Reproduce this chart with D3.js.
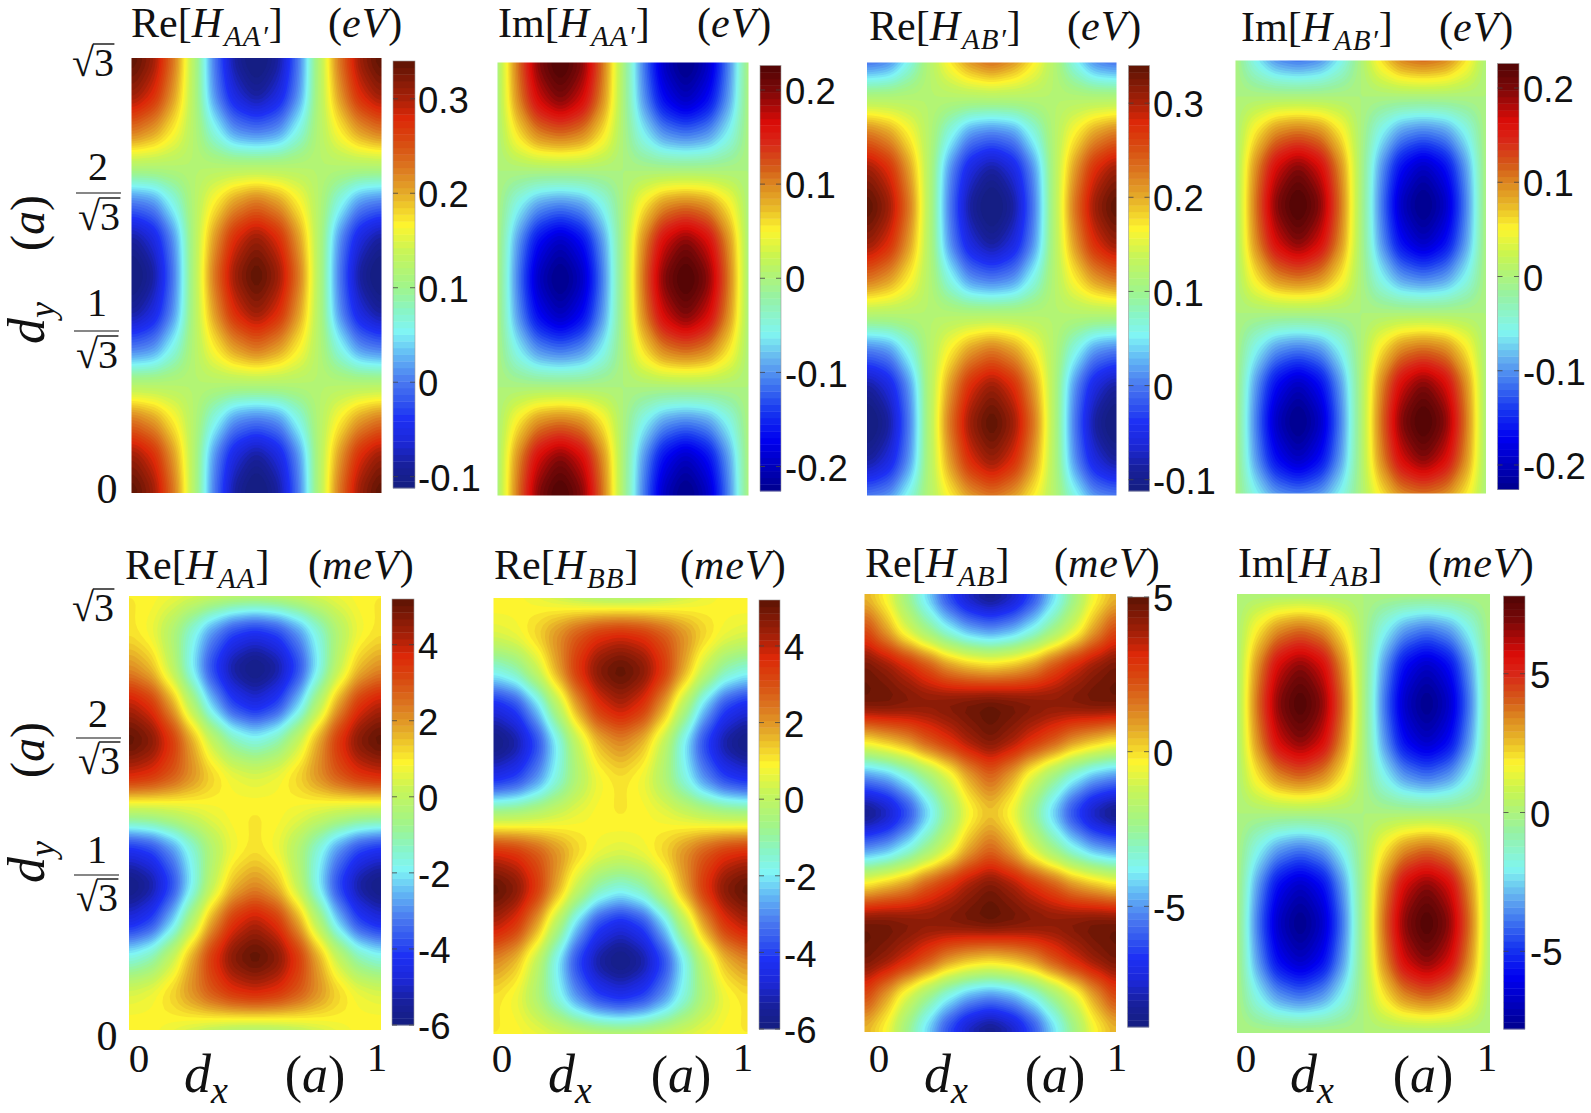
<!DOCTYPE html>
<html>
<head>
<meta charset="utf-8">
<title>Interlayer Hamiltonian maps</title>
<script src="https://cdn.jsdelivr.net/npm/d3@7"></script>
<style>
  html, body { margin: 0; background: #fff; }
  svg { display: block; }
  .math { font-family: "Liberation Serif", serif; fill: #111; }
  .axis text { font-family: "Liberation Sans", sans-serif; font-size: 36.5px; fill: #111; }
</style>
</head>
<body>
<svg id="chart" width="1591" height="1113"></svg>
<script>
// Values, 13 columns (dx = 0..1) by 13 rows (dy = sqrt3..0)
const reHAAp = [
  [.34,.31,.23,.12,0,-.09,-.12,-.09,0,.12,.23,.31,.34],
  [.31,.28,.21,.12,.01,-.06,-.09,-.06,.01,.12,.21,.28,.31],
  [.23,.21,.17,.12,.06,.01,0,.01,.06,.12,.17,.21,.23],
  [.12,.12,.12,.12,.12,.12,.12,.12,.12,.12,.12,.12,.12],
  [0,.01,.06,.12,.17,.21,.23,.21,.17,.12,.06,.01,0],
  [-.09,-.06,.01,.12,.21,.28,.31,.28,.21,.12,.01,-.06,-.09],
  [-.12,-.09,0,.12,.23,.31,.34,.31,.23,.12,0,-.09,-.12],
  [-.09,-.06,.01,.12,.21,.28,.31,.28,.21,.12,.01,-.06,-.09],
  [0,.01,.06,.12,.17,.21,.23,.21,.17,.12,.06,.01,0],
  [.12,.12,.12,.12,.12,.12,.12,.12,.12,.12,.12,.12,.12],
  [.23,.21,.17,.12,.06,.01,0,.01,.06,.12,.17,.21,.23],
  [.31,.28,.21,.12,.01,-.06,-.09,-.06,.01,.12,.21,.28,.31],
  [.34,.31,.23,.12,0,-.09,-.12,-.09,0,.12,.23,.31,.34]
];
const imHAAp = [
  [0,.11,.2,.23,.2,.11,0,-.11,-.2,-.23,-.2,-.11,0],
  [0,.1,.17,.2,.17,.1,0,-.1,-.17,-.2,-.17,-.1,0],
  [0,.06,.1,.11,.1,.06,0,-.06,-.1,-.11,-.1,-.06,0],
  [0,0,0,0,0,0,0,0,0,0,0,0,0],
  [0,-.06,-.1,-.11,-.1,-.06,0,.06,.1,.11,.1,.06,0],
  [0,-.1,-.17,-.2,-.17,-.1,0,.1,.17,.2,.17,.1,0],
  [0,-.11,-.2,-.23,-.2,-.11,0,.11,.2,.23,.2,.11,0],
  [0,-.1,-.17,-.2,-.17,-.1,0,.1,.17,.2,.17,.1,0],
  [0,-.06,-.1,-.11,-.1,-.06,0,.06,.1,.11,.1,.06,0],
  [0,0,0,0,0,0,0,0,0,0,0,0,0],
  [0,.06,.1,.11,.1,.06,0,-.06,-.1,-.11,-.1,-.06,0],
  [0,.1,.17,.2,.17,.1,0,-.1,-.17,-.2,-.17,-.1,0],
  [0,.11,.2,.23,.2,.11,0,-.11,-.2,-.23,-.2,-.11,0]
];
const reHABp = [
  [0,.01,.06,.12,.17,.21,.23,.21,.17,.12,.06,.01,0],
  [.12,.12,.12,.12,.12,.12,.12,.12,.12,.12,.12,.12,.12],
  [.23,.21,.17,.12,.06,.01,0,.01,.06,.12,.17,.21,.23],
  [.31,.28,.21,.12,.01,-.06,-.09,-.06,.01,.12,.21,.28,.31],
  [.34,.31,.23,.12,0,-.09,-.12,-.09,0,.12,.23,.31,.34],
  [.31,.28,.21,.12,.01,-.06,-.09,-.06,.01,.12,.21,.28,.31],
  [.23,.21,.17,.12,.06,.01,0,.01,.06,.12,.17,.21,.23],
  [.12,.12,.12,.12,.12,.12,.12,.12,.12,.12,.12,.12,.12],
  [0,.01,.06,.12,.17,.21,.23,.21,.17,.12,.06,.01,0],
  [-.09,-.06,.01,.12,.21,.28,.31,.28,.21,.12,.01,-.06,-.09],
  [-.12,-.09,0,.12,.23,.31,.34,.31,.23,.12,0,-.09,-.12],
  [-.09,-.06,.01,.12,.21,.28,.31,.28,.21,.12,.01,-.06,-.09],
  [0,.01,.06,.12,.17,.21,.23,.21,.17,.12,.06,.01,0]
];
const imHABp = [
  [0,-.06,-.1,-.11,-.1,-.06,0,.06,.1,.11,.1,.06,0],
  [0,0,0,0,0,0,0,0,0,0,0,0,0],
  [0,.06,.1,.11,.1,.06,0,-.06,-.1,-.11,-.1,-.06,0],
  [0,.1,.17,.2,.17,.1,0,-.1,-.17,-.2,-.17,-.1,0],
  [0,.11,.2,.23,.2,.11,0,-.11,-.2,-.23,-.2,-.11,0],
  [0,.1,.17,.2,.17,.1,0,-.1,-.17,-.2,-.17,-.1,0],
  [0,.06,.1,.11,.1,.06,0,-.06,-.1,-.11,-.1,-.06,0],
  [0,0,0,0,0,0,0,0,0,0,0,0,0],
  [0,-.06,-.1,-.11,-.1,-.06,0,.06,.1,.11,.1,.06,0],
  [0,-.1,-.17,-.2,-.17,-.1,0,.1,.17,.2,.17,.1,0],
  [0,-.11,-.2,-.23,-.2,-.11,0,.11,.2,.23,.2,.11,0],
  [0,-.1,-.17,-.2,-.17,-.1,0,.1,.17,.2,.17,.1,0],
  [0,-.06,-.1,-.11,-.1,-.06,0,.06,.1,.11,.1,.06,0]
];
const reHAA = [
  [1,.92,.69,.38,.07,-.16,-.24,-.16,.07,.38,.69,.92,1],
  [1.05,.69,-.3,-1.64,-2.99,-3.98,-4.34,-3.98,-2.99,-1.64,-.3,.69,1.05],
  [2.09,1.55,.07,-1.96,-3.98,-5.46,-6,-5.46,-3.98,-1.96,.07,1.55,2.09],
  [4.07,3.49,1.91,-.24,-2.4,-3.98,-4.55,-3.98,-2.4,-.24,1.91,3.49,4.07],
  [5.2,4.74,3.49,1.78,.07,-1.18,-1.64,-1.18,.07,1.78,3.49,4.74,5.2],
  [3.71,3.49,2.9,2.09,1.28,.69,.47,.69,1.28,2.09,2.9,3.49,3.71],
  [-.24,-.16,.07,.38,.69,.92,1,.92,.69,.38,.07,-.16,-.24],
  [-4.34,-3.98,-2.99,-1.64,-.3,.69,1.05,.69,-.3,-1.64,-2.99,-3.98,-4.34],
  [-6,-5.46,-3.98,-1.96,.07,1.55,2.09,1.55,.07,-1.96,-3.98,-5.46,-6],
  [-4.55,-3.98,-2.4,-.24,1.91,3.49,4.07,3.49,1.91,-.24,-2.4,-3.98,-4.55],
  [-1.64,-1.18,.07,1.78,3.49,4.74,5.2,4.74,3.49,1.78,.07,-1.18,-1.64],
  [.47,.69,1.28,2.09,2.9,3.49,3.71,3.49,2.9,2.09,1.28,.69,.47],
  [1,.92,.69,.38,.07,-.16,-.24,-.16,.07,.38,.69,.92,1]
];
const reHBB = [
  [1,.92,.69,.38,.07,-.16,-.24,-.16,.07,.38,.69,.92,1],
  [.47,.69,1.28,2.09,2.9,3.49,3.71,3.49,2.9,2.09,1.28,.69,.47],
  [-1.64,-1.18,.07,1.78,3.49,4.74,5.2,4.74,3.49,1.78,.07,-1.18,-1.64],
  [-4.55,-3.98,-2.4,-.24,1.91,3.49,4.07,3.49,1.91,-.24,-2.4,-3.98,-4.55],
  [-6,-5.46,-3.98,-1.96,.07,1.55,2.09,1.55,.07,-1.96,-3.98,-5.46,-6],
  [-4.34,-3.98,-2.99,-1.64,-.3,.69,1.05,.69,-.3,-1.64,-2.99,-3.98,-4.34],
  [-.24,-.16,.07,.38,.69,.92,1,.92,.69,.38,.07,-.16,-.24],
  [3.71,3.49,2.9,2.09,1.28,.69,.47,.69,1.28,2.09,2.9,3.49,3.71],
  [5.2,4.74,3.49,1.78,.07,-1.18,-1.64,-1.18,.07,1.78,3.49,4.74,5.2],
  [4.07,3.49,1.91,-.24,-2.4,-3.98,-4.55,-3.98,-2.4,-.24,1.91,3.49,4.07],
  [2.09,1.55,.07,-1.96,-3.98,-5.46,-6,-5.46,-3.98,-1.96,.07,1.55,2.09],
  [1.05,.69,-.3,-1.64,-2.99,-3.98,-4.34,-3.98,-2.99,-1.64,-.3,.69,1.05],
  [1,.92,.69,.38,.07,-.16,-.24,-.16,.07,.38,.69,.92,1]
];
const reHAB = [
  [.3,-.6,-2.5,-4.4,-6.5,-8.1,-8.9,-8.1,-6.5,-4.4,-2.5,-.6,.3],
  [2.5,.8,-1,-2.4,-3.7,-4.7,-5.1,-4.7,-3.7,-2.4,-1,.8,2.5],
  [4.6,4.1,3.3,2.3,1.1,.5,.2,.5,1.1,2.3,3.3,4.1,4.6],
  [4.7,4.7,4.5,4.3,4.5,4.7,4.9,4.7,4.5,4.3,4.5,4.7,4.7],
  [-.1,.5,1.1,2.2,3,3.9,4.5,3.9,3,2.2,1.1,.5,-.1],
  [-5.1,-4.7,-3.7,-2.4,-1,.7,1.8,.7,-1,-2.4,-3.7,-4.7,-5.1],
  [-8.9,-8.1,-6.5,-4.4,-2.5,-.6,.2,-.6,-2.5,-4.4,-6.5,-8.1,-8.9],
  [-5.1,-4.7,-3.7,-2.4,-1,.7,1.8,.7,-1,-2.4,-3.7,-4.7,-5.1],
  [-.1,.5,1.1,2.2,3,3.9,4.5,3.9,3,2.2,1.1,.5,-.1],
  [4.7,4.7,4.5,4.3,4.5,4.7,4.9,4.7,4.5,4.3,4.5,4.7,4.7],
  [4.6,4.1,3.3,2.3,1.1,.5,.2,.5,1.1,2.3,3.3,4.1,4.6],
  [2.5,.8,-1,-2.4,-3.7,-4.7,-5.1,-4.7,-3.7,-2.4,-1,.8,2.5],
  [.3,-.6,-2.5,-4.4,-6.5,-8.1,-8.9,-8.1,-6.5,-4.4,-2.5,-.6,.3]
];
const imHAB = [
  [0,0,0,0,0,0,0,0,0,0,0,0,0],
  [0,2,3.4,3.9,3.4,2,0,-2,-3.4,-3.9,-3.4,-2,0],
  [0,3.4,5.9,6.8,5.9,3.4,0,-3.4,-5.9,-6.8,-5.9,-3.4,0],
  [0,3.9,6.8,7.8,6.8,3.9,0,-3.9,-6.8,-7.8,-6.8,-3.9,0],
  [0,3.4,5.9,6.8,5.9,3.4,0,-3.4,-5.9,-6.8,-5.9,-3.4,0],
  [0,2,3.4,3.9,3.4,2,0,-2,-3.4,-3.9,-3.4,-2,0],
  [0,0,0,0,0,0,0,0,0,0,0,0,0],
  [0,-2,-3.4,-3.9,-3.4,-2,0,2,3.4,3.9,3.4,2,0],
  [0,-3.4,-5.9,-6.8,-5.9,-3.4,0,3.4,5.9,6.8,5.9,3.4,0],
  [0,-3.9,-6.8,-7.8,-6.8,-3.9,0,3.9,6.8,7.8,6.8,3.9,0],
  [0,-3.4,-5.9,-6.8,-5.9,-3.4,0,3.4,5.9,6.8,5.9,3.4,0],
  [0,-2,-3.4,-3.9,-3.4,-2,0,2,3.4,3.9,3.4,2,0],
  [0,0,0,0,0,0,0,0,0,0,0,0,0]
];

// Colorbar ranges and tick labels
const rangeReAAp = [-0.112, 0.34];
const rangeImAAp = [-0.226, 0.226];
const rangeAAmeV = [-6, 5.2];
const rangeReAB = [-8.9, 5];
const rangeImAB = [-7.8, 7.8];
const ticksReAAp = [-0.1, 0, 0.1, 0.2, 0.3];
const ticksImAAp = [-0.2, -0.1, 0, 0.1, 0.2];
const ticksAAmeV = [-6, -4, -2, 0, 2, 4];
const ticksReAB = [-5, 0, 5];
const ticksImAB = [-5, 0, 5];

// Two variants of the jet map, the numbers are positions along the bar
const stopsWarm = [0, .054, .108, .163, .187, .249, .311, .366, .413, .471, .553, .616, .694, .749, .811, .867, .913, 1];
const colorsWarm = ['#141e80', '#18209c', '#1c28d8', '#1e30f5', '#2848f0', '#4a78f0', '#62b8f5', '#80f5f5', '#88f5c8', '#a0f58a', '#c8f558', '#fdf52e', '#e4a828', '#dc7820', '#d84a10', '#dc2808', '#a82008', '#5c1404'];
const stopsDeep = [0, .12, .19, .3, .37, .46, .551, .613, .668, .719, .762, .818, .864, .943, 1];
const colorsDeep = ['#00008c', '#0000f0', '#1838f0', '#60a8f0', '#80f5f0', '#98f2a0', '#c8f550', '#fdf52e', '#e8b828', '#dc8820', '#d45a18', '#d82818', '#dc0c08', '#7a0808', '#500404'];

const SQRT3 = Math.sqrt(3);
const LEVELS = 64;
const PAD = 3;     // nodes wrapped round each edge, the maps are periodic
const CELL = 6;    // raster cells per node for the contour smoothing
const GAIN = 1.03; // gives back the peak height that the smoothing takes off

class HeatPanel {
  constructor(_config, _data) {
    this.config = _config;
    this.data = _data;
    this.initVis();
    this.renderVis();
  }

  initVis() {
    let vis = this;
    const c = vis.config;

    vis.nCols = vis.data[0].length;
    vis.nRows = vis.data.length;

    vis.xScale = d3.scaleLinear().domain([0, 1]).range([c.box[0], c.box[1]]);
    vis.yScale = d3.scaleLinear().domain([0, SQRT3]).range([c.box[3], c.box[2]]);
    vis.barScale = d3.scaleLinear().domain(c.range).range([c.bar[3], c.bar[2]]);

    const ramp = d3.scaleLinear().domain(c.stops).range(c.colors).interpolate(d3.interpolateRgb);
    vis.levelColor = i => ramp((i + 0.5) / LEVELS);
    vis.thresholds = d3.range(LEVELS).map(i => c.range[0] + i * (c.range[1] - c.range[0]) / LEVELS);

    vis.g = d3.select('#chart').append('g').attr('class', 'panel');
  }

  // Raster of the read values, wrapped at the edges and softened with d3.blur2
  // so the contours do not show the facets of the coarse grid
  buildRaster() {
    let vis = this;
    const w = (vis.nCols + 2 * PAD) * CELL;
    const h = (vis.nRows + 2 * PAD) * CELL;
    const wrap = (i, n) => (((i - PAD) % (n - 1)) + (n - 1)) % (n - 1);
    const values = new Float64Array(w * h);
    for (let y = 0; y < h; y++) {
      const row = vis.data[wrap(Math.floor(y / CELL), vis.nRows)];
      for (let x = 0; x < w; x++) {
        values[y * w + x] = row[wrap(Math.floor(x / CELL), vis.nCols)];
      }
    }
    d3.blur2({ data: values, width: w, height: h }, 1.5);
    const mid = d3.mean(vis.config.range);
    values.forEach((v, i) => { values[i] = mid + (v - mid) * GAIN; });
    return { values, w, h };
  }

  renderVis() {
    let vis = this;
    const c = vis.config;
    const clipId = `clip-${c.id}`;

    vis.g.append('clipPath').attr('id', clipId)
      .append('rect')
      .attr('x', c.box[0]).attr('y', c.box[2])
      .attr('width', c.box[1] - c.box[0]).attr('height', c.box[3] - c.box[2]);

    const map = vis.g.append('g').attr('clip-path', `url(#${clipId})`)
      .append('g').attr('filter', 'url(#soft)');

    // Base colour below the first contour
    map.append('rect')
      .attr('x', c.box[0] - 30).attr('y', c.box[2] - 30)
      .attr('width', c.box[1] - c.box[0] + 60).attr('height', c.box[3] - c.box[2] + 60)
      .attr('fill', vis.levelColor(0));

    const project = d3.geoTransform({
      point(x, y) {
        const col = x / CELL - 0.5 - PAD;
        const row = y / CELL - 0.5 - PAD;
        this.stream.point(
          vis.xScale(col / (vis.nCols - 1)),
          vis.yScale(SQRT3 * (1 - row / (vis.nRows - 1)))
        );
      }
    });
    const path = d3.geoPath(project);
    const raster = vis.buildRaster();
    const bands = d3.contours()
      .size([raster.w, raster.h])
      .thresholds(vis.thresholds)(raster.values);

    map.selectAll('path')
      .data(bands.slice(1))
      .join('path')
      .attr('d', path)
      .attr('fill', (d, i) => vis.levelColor(i + 1));

    vis.renderBar();
    vis.renderTitle();
  }

  renderBar() {
    let vis = this;
    const c = vis.config;
    const step = (c.bar[3] - c.bar[2]) / LEVELS;

    vis.g.append('g').selectAll('rect')
      .data(d3.range(LEVELS))
      .join('rect')
      .attr('x', c.bar[0])
      .attr('y', i => c.bar[3] - (i + 1) * step)
      .attr('width', c.bar[1] - c.bar[0])
      .attr('height', step + 0.4)
      .attr('fill', i => vis.levelColor(i));

    vis.g.append('rect')
      .attr('x', c.bar[0]).attr('y', c.bar[2])
      .attr('width', c.bar[1] - c.bar[0]).attr('height', c.bar[3] - c.bar[2])
      .attr('fill', 'none').attr('stroke', '#999').attr('stroke-width', 0.6);

    // Small marks on both edges of the bar
    c.ticks.forEach(t => {
      [[c.bar[0], c.bar[0] + 5], [c.bar[1] - 5, c.bar[1]]].forEach(([a, b]) => {
        vis.g.append('line')
          .attr('x1', a).attr('x2', b)
          .attr('y1', vis.barScale(t)).attr('y2', vis.barScale(t))
          .attr('stroke', '#444').attr('stroke-width', 0.8);
      });
    });

    const axis = d3.axisRight(vis.barScale)
      .tickValues(c.ticks)
      .tickSize(0)
      .tickPadding(0)
      .tickFormat(d => String(d));

    const axisG = vis.g.append('g')
      .attr('class', 'axis')
      .attr('transform', `translate(${c.labelX},2)`)
      .call(axis);
    axisG.select('.domain').remove();
  }

  renderTitle() {
    let vis = this;
    const c = vis.config;
    const t = vis.g.append('text').attr('class', 'math')
      .attr('x', c.title[0]).attr('y', c.title[1])
      .style('font-size', '42px');
    t.append('tspan').text(c.part + '[');
    t.append('tspan').style('font-style', 'italic').text('H');
    t.append('tspan').style('font-style', 'italic').style('font-size', '29px')
      .attr('dy', 9).attr('dx', 2).attr('letter-spacing', 1).text(c.sub);
    t.append('tspan').attr('dy', -9).text(']');

    const u = vis.g.append('text').attr('class', 'math')
      .attr('x', c.title[2]).attr('y', c.title[1])
      .style('font-size', '42px');
    u.append('tspan').text('(');
    u.append('tspan').style('font-style', 'italic').attr('letter-spacing', 1).text(c.unit);
    u.append('tspan').text(')');
  }
}

const svg = d3.select('#chart');
svg.append('defs').append('filter')
  .attr('id', 'soft')
  .attr('color-interpolation-filters', 'sRGB')
  .append('feGaussianBlur').attr('stdDeviation', 0.6);

const warm = { stops: stopsWarm, colors: colorsWarm };
const deep = { stops: stopsDeep, colors: colorsDeep };

new HeatPanel({ id: 'p1', ...warm, box: [131.5, 381.5, 58, 493], bar: [393, 415, 61, 488], range: rangeReAAp, ticks: ticksReAAp, labelX: 418, part: 'Re', sub: 'AA\u2032', unit: 'eV', title: [131, 37, 328] }, reHAAp);
new HeatPanel({ id: 'p2', ...deep, box: [497.5, 748.5, 62.5, 495.5], bar: [760, 781, 65.5, 491], range: rangeImAAp, ticks: ticksImAAp, labelX: 785, part: 'Im', sub: 'AA\u2032', unit: 'eV', title: [498, 37, 697] }, imHAAp);
new HeatPanel({ id: 'p3', ...warm, box: [867, 1116.5, 62.5, 495.5], bar: [1128.5, 1149.5, 65.5, 491], range: rangeReAAp, ticks: ticksReAAp, labelX: 1153, part: 'Re', sub: 'AB\u2032', unit: 'eV', title: [869, 40, 1067] }, reHABp);
new HeatPanel({ id: 'p4', ...deep, box: [1235.5, 1486, 60.5, 493.5], bar: [1497.5, 1519, 63.5, 489.5], range: rangeImAAp, ticks: ticksImAAp, labelX: 1523, part: 'Im', sub: 'AB\u2032', unit: 'eV', title: [1241, 41, 1439] }, imHABp);
new HeatPanel({ id: 'p5', ...warm, box: [129, 381, 596, 1030], bar: [392, 414, 599, 1025], range: rangeAAmeV, ticks: ticksAAmeV, labelX: 418, part: 'Re', sub: 'AA', unit: 'meV', title: [125, 579, 308] }, reHAA);
new HeatPanel({ id: 'p6', ...warm, box: [493.5, 747.5, 598, 1034], bar: [759, 780, 600, 1029], range: rangeAAmeV, ticks: ticksAAmeV, labelX: 784, part: 'Re', sub: 'BB', unit: 'meV', title: [494, 579, 680] }, reHBB);
new HeatPanel({ id: 'p7', ...warm, box: [864.5, 1116, 594, 1032], bar: [1127.5, 1149, 597, 1027], range: rangeReAB, ticks: ticksReAB, labelX: 1153, part: 'Re', sub: 'AB', unit: 'meV', title: [865, 577, 1054] }, reHAB);
new HeatPanel({ id: 'p8', ...deep, box: [1237, 1490, 594, 1033], bar: [1503.5, 1525, 596, 1029], range: rangeImAB, ticks: ticksImAB, labelX: 1530, part: 'Im', sub: 'AB', unit: 'meV', title: [1238, 577, 1428] }, imHAB);

// Axis labels written out as math text
const labels = svg.append('g').attr('class', 'labels');

function mathText(x, y, size, anchor, parts, rotate) {
  const t = labels.append('text').attr('class', 'math')
    .attr('text-anchor', anchor)
    .style('font-size', size + 'px')
    .attr('transform', `translate(${x},${y})` + (rotate ? ` rotate(${rotate})` : ''));
  parts.forEach(p => {
    const s = t.append('tspan').text(p.t);
    if (p.i) s.style('font-style', 'italic');
    if (p.sub) s.style('font-size', Math.round(size * 0.7) + 'px').attr('dy', size * 0.2);
  });
  return t;
}

function sqrt3(x, y, size) {
  mathText(x, y, size, 'start', [{ t: '\u221A' }, { t: '3' }]);
  labels.append('line')
    .attr('x1', x + size * 0.52).attr('x2', x + size * 1.06)
    .attr('y1', y - size * 0.80).attr('y2', y - size * 0.80)
    .attr('stroke', '#111').attr('stroke-width', 1.4);
}

function fraction(num, x, yNum, x1, x2, yBar, yRoot) {
  mathText(x, yNum, 40, 'middle', [{ t: num }]);
  labels.append('line')
    .attr('x1', x1).attr('x2', x2).attr('y1', yBar).attr('y2', yBar)
    .attr('stroke', '#111').attr('stroke-width', 1.2);
  sqrt3(x1 + 2, yRoot, 40);
}

// Left labels, top row then bottom row
sqrt3(72, 76, 40);
fraction('2', 98, 180, 76, 121, 193, 230);
fraction('1', 97, 316, 74, 119, 331, 368);
mathText(107, 503, 42, 'middle', [{ t: '0' }]);
mathText(44, 223, 48, 'middle', [{ t: '(' }, { t: 'a', i: true }, { t: ')' }], -90);
mathText(44, 323, 52, 'middle', [{ t: 'd', i: true }, { t: 'y', i: true, sub: true }], -90);

sqrt3(72, 621, 40);
fraction('2', 98, 727, 76, 121, 738, 774);
fraction('1', 97, 863, 74, 119, 875, 911);
mathText(107, 1050, 42, 'middle', [{ t: '0' }]);
mathText(44, 750, 48, 'middle', [{ t: '(' }, { t: 'a', i: true }, { t: ')' }], -90);
mathText(44, 862, 52, 'middle', [{ t: 'd', i: true }, { t: 'y', i: true, sub: true }], -90);

// Bottom labels: dx, (a), and the 0 and 1 ticks of every lower panel
[[139, 377, 206, 315], [502, 743, 570, 681], [879, 1117, 946, 1055], [1246, 1487, 1312, 1423]].forEach(([x0, x1, xd, xa]) => {
  mathText(x0, 1072, 41, 'middle', [{ t: '0' }]);
  mathText(x1, 1071, 41, 'middle', [{ t: '1' }]);
  mathText(xd, 1092, 54, 'middle', [{ t: 'd', i: true }, { t: 'x', i: true, sub: true }]);
  mathText(xa, 1092, 52, 'middle', [{ t: '(' }, { t: 'a', i: true }, { t: ')' }]);
});
</script>
</body>
</html>
